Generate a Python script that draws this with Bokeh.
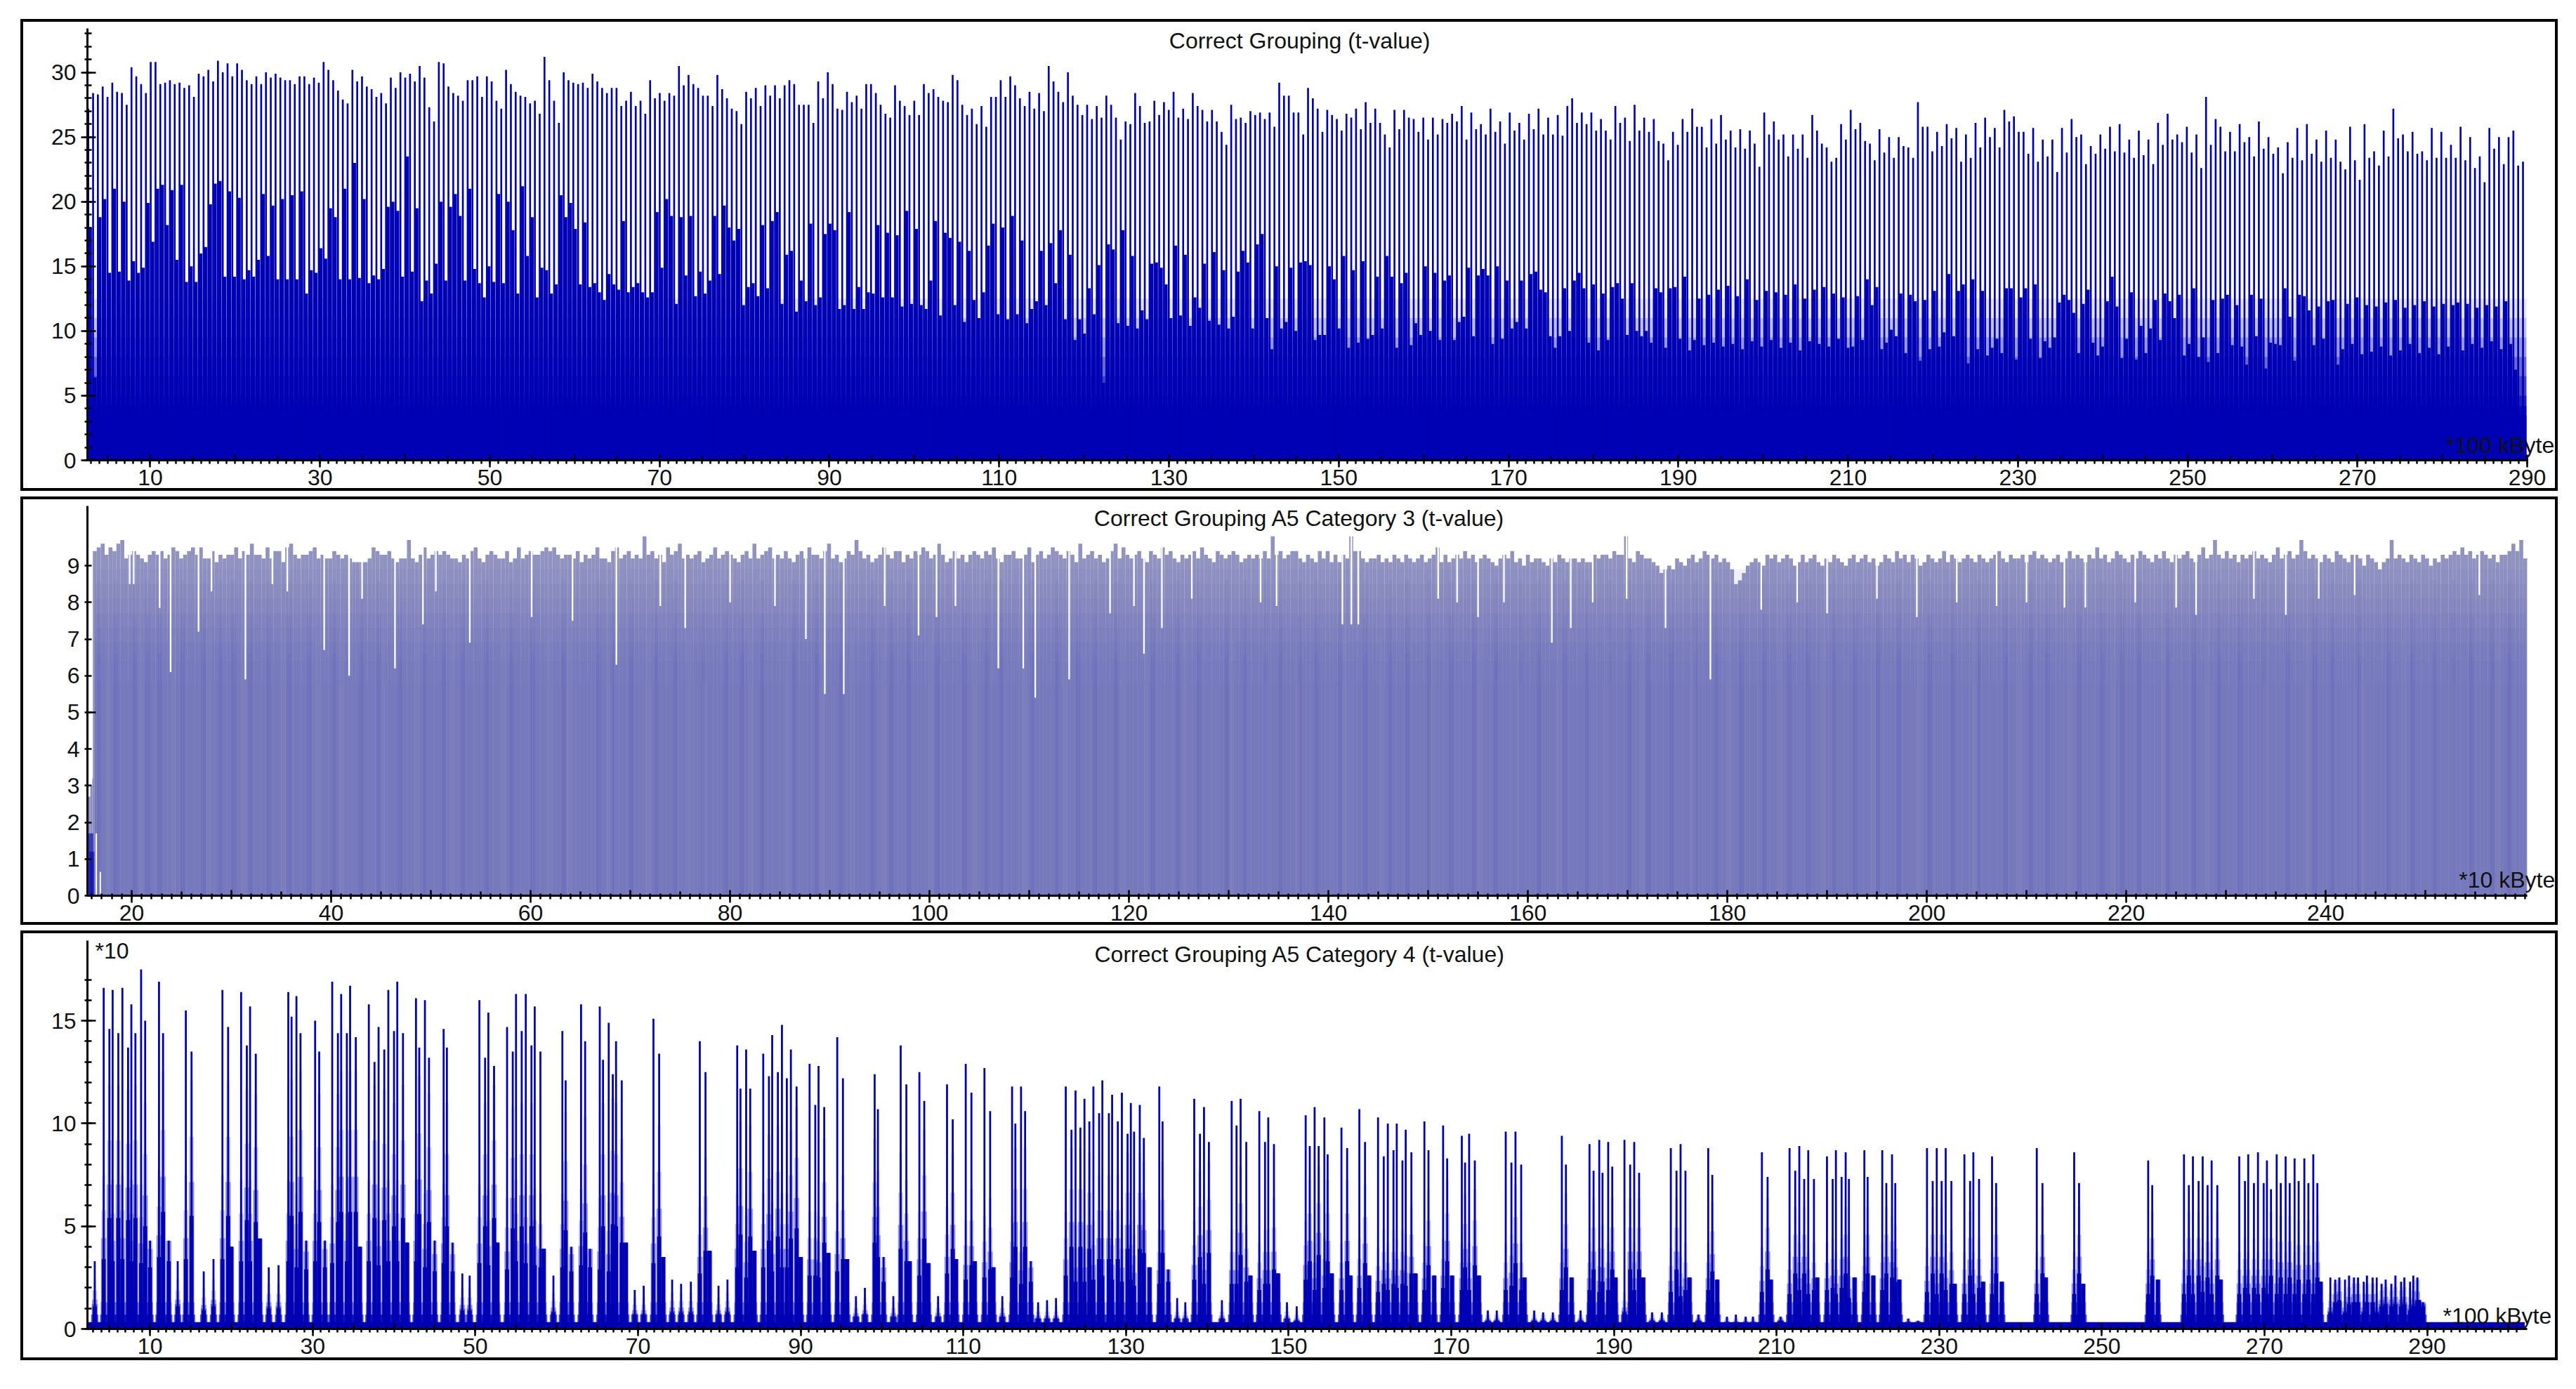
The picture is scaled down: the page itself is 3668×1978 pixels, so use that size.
from bokeh.embed import file_html
from bokeh.resources import INLINE
from bokeh.plotting import figure
from bokeh.layouts import column
from bokeh.models import Div, FixedTicker, Label, LinearAxis, Range1d

titles = ["Correct Grouping (t-value)", "Correct Grouping A5 Category 3 (t-value)", "Correct Grouping A5 Category 4 (t-value)"]
units = ["*100 kByte", "*10 kByte", "*100 kByte"]

# Panel 1: tall spikes, read left to right
peaks1 = [27.2,28.4,28.3,28.9,28.1,29.2,28.5,28.4,27.5,30.4,29.7,29.1,28.4,30.8,30.8,29.1,29.2,29.4,29.1,29.2,28.8,29,28.1,29.9,29.7,30.2,29.3,30.9,30,30.7,29.7,30.7,30.2,29.4,29.1,29.7,29.1,30,29.6,29.9,29.6,29.4,29.4,29.1,29.7,29.7,29.1,29.6,29.2,30.8,30.2,29.4,28.6,27.9,27.6,30.2,29.3,29.7,28.9,28.7,28.1,28.4,27.6,29.6,28.8,30,29.6,29.9,29.3,30.5,29.6,27.3,26.2,30.8,30.7,28.9,28.4,28.2,27.8,29.4,29.4,29.7,28.1,29.7,29.3,27.8,27.2,30.2,29.1,28.5,28.2,28.1,27.6,27.8,26.8,31.2,29.4,27.8,26.1,30,29.4,29.2,29.1,29.2,28.8,29.9,29.3,28.8,28.4,28.8,28.8,27.4,27.8,
28.5,27.4,27.8,26.8,29.4,28,28.4,27.8,28.4,28.2,30.5,29,29.8,29.1,28.8,28.2,28.2,27.4,29.8,28.7,28,27.2,27,26,28.5,28,28.8,27.4,29,28.2,29,28,29,29.4,29.1,27.5,27.5,27.5,26.1,29.3,28,30,29.1,27.2,27.1,28.5,27.7,28.2,27.2,29.1,29.1,28.4,27.5,26.8,26.5,29,27.8,27.4,26.7,27.8,26.7,29.1,28.4,28.7,28.1,27.8,27.7,29.8,29.4,27.5,26.7,27.2,26,27.4,25.8,28.1,28.1,29.4,28.1,29.7,29,28,27.4,28.5,27.2,28.4,27,30.5,29.3,28.5,27.7,30,28.2,27.5,26.7,27.5,26.4,27.4,26.5,28.2,27.5,26.5,24.8,26.2,26,28.4,27.4,26.1,26.2,27.8,26.7,27.7,27.1,28.5,26.5,27.2,26.4,28.4,27.4,27.1,26.2,27.1,26.2,25.4,24.4,27.5,26.4,26.5,26.1,27,26.7,
26.9,26.4,26.9,25.8,29.2,28.2,28.2,26.9,26.9,25.2,28.8,28,27.2,25.4,27.1,26.7,26.4,25.5,26.8,26.5,27.2,25.6,27.7,26.1,27.2,26.1,25.2,24.2,27.1,25.6,27.1,26.5,26.4,25.4,26.5,24.8,26.5,25.2,26.4,26.1,26.8,26.2,27.4,24.8,26.9,25.6,26,25.2,27.2,25.4,26.2,24.5,26.9,25.5,26.1,24.8,26.8,25.6,27.2,25.2,26.5,25.2,26.7,25.1,27.4,28,26.1,26.9,26,26.9,25.5,26.4,25.5,24.8,27.4,26.1,26.5,24.7,27.5,25.5,26.5,25.4,26.4,24.7,24.5,23.2,25.4,24.4,26.4,25.4,27.2,25.8,25.8,24.2,26.4,24.5,26.7,24.8,25.5,24.2,25.6,24.1,25.5,24.5,22.7,26.9,25.2,26.2,24.8,25.2,23.5,25.2,24.1,25.2,23.4,26.7,25.5,24.5,24.2,23.1,23.4,26,24.8,27.1,25.6,26.1,24.7,24.5,23.2,25.6,23.8,
25,23.4,25,24.3,24.2,23.4,27.7,25.8,25.8,23.9,25.4,24.3,26,24.9,25.7,23.1,25.2,23.4,26.1,24.2,26.5,25,25.7,24.2,27.1,26.2,26.6,25.4,25.4,23.7,25.7,23.1,24.8,23.5,24.8,22.3,25.7,23.8,26.4,25,25.2,22.9,24.3,23.7,25.2,24.1,25.8,23.9,26,23.8,24.8,23.4,25.5,23.6,24.8,22.9,26.1,24.4,26.8,24.8,25.2,24.6,25.8,23.8,25.2,22.6,28.1,24.4,26.4,25.8,23.9,25.4,23.9,26,24.6,25,23.5,26.2,24.1,25,23.7,24.2,22.2,24.6,23.4,25.7,23.2,26,23.7,24.8,23.1,25.5,23.4,24.8,23.1,22.5,25.8,23.2,21.7,26,23.4,23.9,22.8,25.5,23.5,27.2,24.9,25.2,23.9,25.4,23.7,23.9,23.2,25.7,23.4,25.4,23.4,24.4,23.4,25.8,23.2,25,22.6,23.5,21.5,25.7,24.1,25,22.9,25,25.5,22.8,23.1]

# Panel 1: second level next to each spike
mids1 = [18,6.4,18.8,20.2,14.5,21,14.6,20,13.9,15.4,14.5,14.9,19.9,16.9,21,21.3,18.2,20.9,15.5,21.3,13.8,15,13.8,16,16.5,19.8,21.4,21.6,14.2,20.8,14.2,20.3,14,14.7,14.2,15.5,20.6,15.8,19.7,14,20.2,14,20.5,14,20.8,12.9,14.7,14.5,16.4,15.6,19.5,18.8,14,21,14,23,14.1,20.2,13.7,14.3,14,14.8,19.6,20,19.3,14.2,23.5,14.6,19.5,12.3,13.9,12.9,15.2,20,13.9,19.6,20.6,18.9,13.9,21,14.8,13.7,12.6,15,13.8,20.6,13.7,20,17.8,12.9,21.2,15.8,18.8,12.6,14.9,14.7,12.9,13.6,20.5,18.8,19.9,17.9,13.6,18.4,13.4,13.7,13,12.4,14.4,13.6,13.2,18.5,13,
13.4,13.7,13,12.6,13,19.2,14.9,20.2,18.9,12.1,18.8,14.3,18.9,12.7,14.6,12.9,13.9,18.9,14.4,19.7,18,17,17.9,12,13.4,13.7,12.7,18.2,13.3,18.5,19.2,12.1,15.9,16.2,11.5,13.9,12.3,18.3,12,12.6,17.5,18.3,17.8,11.7,12,19.2,11.7,13.4,11.7,13,12.9,18.2,12.6,17.6,12.6,17.4,11.9,19.3,12.1,17.9,12,11.7,13.9,18.5,11.2,17.6,17.2,12,16.9,10.7,16.2,12.4,11,13,16.6,18.3,11.3,18,10.9,18.9,11.3,17,10.6,11.7,12.3,16.2,12,16.8,13.7,17.8,10.9,15.9,9.3,10.9,9.8,13.3,11.3,15.1,6,16.7,16.3,10.6,17.8,10.4,15.8,10.2,11.6,10.9,15.2,15.3,14.9,13.6,11,16.6,11.2,15.9,10.4,12.6,11.8,15.2,10.8,16.1,10.5,14.7,
10.2,11.1,14.6,16.2,15.3,10.2,16.7,17.5,11,8.6,15,10.2,10.7,14.9,10,15.3,15.4,15.1,9.3,9.7,9.7,15,14,10.2,15.8,8.7,14.7,9.1,15.4,9.4,9.7,14.2,10.2,15.8,14.2,8.7,13.7,14.5,8.9,10.6,9.7,15,10,14.5,9.3,13.9,14.3,9.3,10.7,11.1,14.9,9.6,14.3,14.8,14.3,9,15,9.4,13.9,10.2,10.7,13.9,10.2,14.4,14.6,13.2,13,9.6,8.7,9.6,13.3,10,13.9,14.5,13.3,9.1,13.6,8.5,12.9,9.3,13.4,13.7,12.5,9.7,13.7,10,9.6,10,9.1,13.3,13,8.7,13.3,13.4,9.4,14.2,8.5,9.3,12.5,8.9,12.8,9.1,13.2,8.8,13.5,9,12.7,8.6,14,9.2,12.4,8.8,13.1,9.3,13,8.7,12.8,9.1,13.6,8.5,12.5,9.2,13.2,9,13.4,8.8,12.9,9.4,12.6,8.7,
8.8,12.7,9.3,14,12,13.4,8.6,9.1,10.1,9.6,12.9,8.3,12.8,12.3,7.7,12.4,8.6,13.1,8.8,9.9,14.4,9.6,13.1,13.6,7.5,14,8.6,13.1,8.1,8.7,9.4,8.3,13.3,13.3,7.8,12.6,13.3,9.4,13.6,7.9,9.2,8.7,9.5,12.2,12.8,12.4,11.4,8.3,12.1,13.2,9.1,8.1,8.8,12.3,14.2,11.9,7.9,9.4,13,7.8,10.4,8.3,10.2,12.4,9.3,12.9,12.3,11,12.8,8.1,9,13.3,8,9.5,7.6,12.4,8.3,12.5,12.8,8.9,12,8.8,7.4,12.8,9.6,12.5,7.1,9.1,9,8.9,13.3,11.1,7.7,12.8,12.7,11.6,8.9,11.9,9.4,12.3,12.4,7.4,8.6,12.1,9,12.6,8.2,12,8.4,11.9,8.8,12.2,8.1,12.4,8.5,11.8,9,12,8.3,12.3,8.7,11.9,8.2,12.1,8.8,12,12.2,8.5,12.1,9,11.8,8.7,12,9.2,11.9,8.6,12.3,9,7]

# Panel 2: top of each sample block
tops2 = [9.4,9.5,9.6,9.3,9.5,9.4,9.6,9.7,9.2,9.3,9.4,9.3,9.2,9.1,9.3,9.4,9.3,9.4,9.2,9.3,
9.5,9.4,9.2,9.3,9.4,9.5,9.3,9.5,9.2,9.2,9.4,9.1,9.3,9.2,9.3,9.3,9.5,9.2,9.4,9.3,
9.6,9.3,9.3,9.2,9.5,9.2,9.4,9.4,9.1,9.5,9.6,9.3,9.2,9.3,9.3,9.4,9.5,9.2,9.3,9.2,
9.2,9.4,9.3,9.2,9.3,9.2,9.1,9.1,9.1,9.1,9.2,9.5,9.4,9.3,9.3,9.4,9.2,9.1,9.2,9.2,
9.7,9.2,9.1,9.3,9.5,9.2,9.3,9.4,9.3,9.4,9.3,9.2,9.2,9.1,9.3,9.2,9.4,9.5,9.2,9.1,
9.3,9.4,9.3,9.2,9.2,9.4,9.1,9.2,9.5,9.2,9.3,9.4,9.3,9.3,9.4,9.5,9.4,9.5,9.3,9.2,
9.3,9.3,9.2,9.4,9.1,9.3,9.2,9.3,9.5,9.2,9.2,9.1,9.4,9.5,9.2,9.3,9.4,9.2,9.3,9.2,
9.8,9.3,9.4,9.2,9.3,9.1,9.5,9.3,9.4,9.6,9.2,9.3,9.2,9.3,9.4,9.1,9.2,9.3,9.5,9.2,
9.3,9.4,9.3,9.2,9.1,9.3,9.4,9.2,9.6,9.2,9.3,9.4,9.5,9.2,9.3,9.2,9.4,9.2,9.1,9.3,
9.4,9.2,9.5,9.3,9.3,9.2,9.4,9.6,9.2,9.3,9.1,9.2,9.4,9.3,9.7,9.4,9.2,9.3,9.1,9.2,
9.3,9.5,9.3,9.2,9.4,9.4,9.1,9.3,9.2,9.4,9.3,9.5,9.4,9.2,9.3,9.6,9.3,9.1,9.2,9.4,
9.2,9.3,9.1,9.3,9.4,9.3,9.2,9.4,9.3,9.5,9.2,9.1,9.3,9.3,9.4,9.2,9.2,9.3,9.5,9.1,
9.3,9.4,9.2,9.3,9.5,9.4,9.3,9.2,9.4,9.3,9.1,9.6,9.2,9.3,9.4,9.2,9.3,9.1,9.2,9.4,
9.6,9.2,9.5,9.3,9.2,9.3,9.4,9.2,9.1,9.4,9.3,9.2,9.5,9.3,9.4,9.2,9.1,9.3,9.2,9.3,
9.4,9.2,9.5,9.3,9.2,9.1,9.4,9.3,9.2,9.3,9.4,9.3,9.1,9.2,9.3,9.2,9.3,9.2,9.4,9.2,
9.8,9.3,9.4,9.2,9.3,9.4,9.4,9.2,9.1,9.3,9.2,9.1,9.4,9.2,9.4,9.1,9.3,9.1,9.3,9.2,
9.8,9.4,9.4,9.2,9.1,9.2,9.2,9.3,9.1,9.2,9.1,9.3,9.2,9.1,9.3,9.2,9.1,9.2,9.3,9.1,
9.2,9.3,9.5,9.1,9.3,9.1,9.2,9.3,9.2,9.4,9.2,9.3,9.1,9.2,9.3,9.2,9.1,9,9.2,9.3,
9.2,9.4,9.1,9.2,9,9.3,9.1,9.2,9.2,9.1,9,9.2,9.1,9.3,9.2,9.1,9.2,9.2,9.1,9.2,
9.1,9.1,9.3,9.2,9.3,9.3,9.2,9.4,9.3,9.3,9.8,9.2,9.1,9.4,9.3,9.2,9.2,9.1,9,8.8,
8.9,9,8.9,9.2,9.1,9,9.2,9.3,9.1,9.2,9.4,9.3,9.2,9.3,9.1,9.2,9.1,8.9,8.5,8.6,
8.8,9,9.1,9.2,9.1,9,9.3,9.2,9.3,9.1,9.2,9.3,9.2,9,9.1,9.3,9.1,9.2,9.3,9.1,
9,9.2,9.1,9.3,9.2,9.1,9,9.2,9.3,9.1,9.2,9.3,9.1,9.2,9,9.1,9.3,9.2,9.1,9.4,
9.2,9.3,9.1,9.3,9.2,9,9.1,9.3,9.2,9.1,9.2,9.4,9.1,9.3,9.2,9.1,9.2,9.3,9.2,9.1,
9.3,9.2,9.1,9.2,9.3,9.4,9.2,9.1,9.3,9.2,9.2,9.3,9.1,9.3,9.4,9.2,9.3,9.2,9.1,9.2,
9.3,9.1,9.2,9.4,9.2,9.3,9.2,9.1,9.3,9.2,9.5,9.2,9.3,9.1,9.2,9.4,9.3,9.2,9.1,9.3,
9.2,9.4,9.3,9.2,9.1,9.3,9.2,9.4,9.2,9.1,9.3,9.2,9.3,9.4,9.2,9.1,9.3,9.5,9.2,9.3,
9.7,9.3,9.2,9.4,9.2,9.3,9.1,9.3,9.2,9.3,9.4,9.2,9.3,9.2,9.1,9.3,9.5,9.2,9.3,9.4,
9.2,9.3,9.7,9.4,9.2,9.3,9.2,9.1,9.3,9.2,9.1,9.4,9.3,9.2,9.1,9.3,9.3,9.2,9,9.3,
9.2,9.1,8.9,9.1,9.2,9.7,9.2,9.3,9.2,9.1,9.3,9.2,9.1,9.3,9.2,9,9.2,9.1,9.3,9.2,
9.3,9.4,9.3,9.5,9.3,9.4,9.2,9.3,9.4,9.3,9.2,9.3,9.1,9.3,9.3,9.4,9.6,9.4,9.7,9.2]

dip_x2 = [19.8,20.2,22.8,23.9,26.7,28,31.4,34.1,35.6,39.3,41.8,43.1,46.4,49.2,50.5,53.9,60.1,64.2,68.6,73,75.5,80,84.5,87.6,89.5,91.4,95.5,98.9,100.7,102.6,106.9,109.4,110.6,114,118.1,120.5,121.5,123.3,126.3,133.2,134.8,141.4,142.3,143,151,152.9,155,157.6,162.4,164.3,166.5,169.9,173.8,178.3,183.4,187,190,195,199,203,207,210,213.8,215.9,220.9,225,227,232.8,236,239.3,242.9,255.4]
dip_y2 = [8.5,8.5,7.85,6.1,7.2,8.3,5.9,8.5,8.3,6.7,6,8.1,6.2,7.4,8.3,6.9,7.6,7.5,6.3,7.9,7.3,8,7.9,7,5.5,5.5,7.9,7.1,7.6,7.9,6.2,6.2,5.4,5.9,7.7,7.9,6.6,7.3,8.1,8,7.9,7.4,7.4,7.4,8.1,8,7.6,8,6.9,7.3,8,8.1,7.3,5.9,7.8,8,7.7,8.1,7.6,8,7.9,8,7.86,7.86,8,7.86,7.66,8.1,7.66,8.1,8.2,8.2]
dark_x2 = [16.7,18.4,20.3,21.6,22.8,25.1,27.2,28.9,30.2,31.9,33.7,35.8,37.8,40.3,43,44.8,46.9,49.4,51.3,53.2,55.6,58.1,60.2,63.3,66.8,68.2,70.1,72.6,74.5,77.3,79.6,81.2,83.2,86.4,88.7,91.1,94.3,96.2,97.9,100.8,103.5,105.7,107.2,110.3,112.8,114.9,116.6,118.7,122.4,124.9,127,129.8,131.6,133.7,135.2,137.1,138.8,141.2,143.7,146.2,147.9,150.1,152.3,154.6,156.8,159.3,161.1,163.7,165.9,168.2,170.2,172.1,174.4,176.8,178.9,181.4,183.7,186.2,188.1,190.7,192.8,195.1,197.2,200.3,202.6,205.2,207.9,210.4,212.1,215.3,217.6,219.6,221.3,224.2,226.8,229.3,231.4,233.8,236.2,238.9,240.7,243.4,246.3,248.7,250.9,252.8,254.6,256.7,258.4]
light_x2 = [17.6,20.9,24.2,27.8,31.2,35.2,38.6,41.1,45.2,48.6,52.1,57.3,61.8,63.9,67.9,71.8,75.9,77.4,82.1,85.8,89.3,92.2,95.4,100.1,104.6,109.5,113.6,119.3,121.7,125.6,130.3,133.8,136.9,141.6,145.3,150.4,155.2,159.2,163.1,168.1,171.4,176.6,180.1,185.3,189.6,194.6,199.2,204.8,209.3,214.4,218.7,223.7,228.1,233.9,238.2,243.6,247.9,252.8,257.3]

# Panel 3: spikes
x3 = [3.2,4.3,5.0,5.4,6.1,6.6,7.3,7.7,8.2,8.9,9.4,10,11.1,11.6,12.3,13.4,14.4,15.1,16.6,17.8,
18.9,19.6,20,21.2,21.9,22.3,23,23.5,24.6,25.8,27,27.4,28,28.5,29.2,30.3,30.8,31.5,32.4,33.1,
33.5,34.2,34.6,35.3,35.8,36.9,37.6,38.1,38.8,39.3,40,40.4,41.1,41.6,42.7,43.1,43.8,44.3,45,46.1,
46.5,47.2,48.4,49.3,50.5,51.2,51.6,52.3,52.7,53.9,54.6,55,55.7,56.2,56.9,57.3,58,58.4,59.6,60.7,
61.1,61.8,63,63.5,64.1,65.3,65.7,66.4,66.9,67.3,68,68.5,69.6,70.7,71.9,72.6,73.1,74.2,75.3,76.5,
77.6,78.3,78.8,79.9,81,82.2,82.6,83.3,83.8,84.3,85.4,86.1,86.5,87.2,87.7,88.3,88.8,89.5,90,91.1,
91.8,92.2,92.9,93.4,94.5,95.2,95.7,96.8,97.9,99.1,99.5,100.2,101.4,102.3,103,103.4,104.6,105.2,105.7,106.9,
108,108.7,109.1,110.3,111,111.4,112.6,113.3,113.7,114.8,116,116.4,117.1,117.6,118.3,119.2,120.3,121.4,122.6,123.3,
123.8,124.4,124.9,125.5,126,126.7,127.1,127.9,128.3,129,129.5,130.2,130.6,131,131.7,132.2,132.9,134.1,134.5,135.2,
136.3,137.3,138.4,139.1,139.6,140.2,141.8,143,143.6,144.1,144.8,145.3,146.4,147.1,147.5,148.2,148.7,149.8,151,152.1,
152.6,153.2,153.7,154.4,154.8,155.3,156.5,157.2,157.6,158.7,159.4,159.9,161,161.7,162.2,162.9,163.3,164,164.4,165.1,
165.6,166.7,167.2,167.9,169,169.5,170.1,171.3,171.7,172.2,172.9,173.4,174.5,175.6,176.7,177.4,177.9,178.6,179,180.2,
181.3,182.5,183.6,184.1,184.8,185.9,187,187.5,188.2,188.6,189.3,189.8,190.2,191.3,192,192.5,193.1,193.6,194.7,195.9,
197,197.7,198.2,198.8,199.3,200.4,201.6,202.1,202.7,203.9,205,206.2,207.1,208.2,208.9,209.3,210.5,211.6,212.3,212.8,
213.4,213.9,214.6,215,216.2,216.9,217.3,218,218.5,218.9,219.6,220.8,221.2,221.9,223,223.5,224.2,224.6,225.1,226.2,
227.4,228.5,229.2,229.7,230.3,230.8,231.5,231.9,233.1,233.8,234.2,234.9,235.4,236.5,237,237.7,242,242.7,243.1,246.6,
247.2,247.7,255.7,256.2,256.9,260.1,260.7,261.2,261.9,262.4,263,263.5,264.2,264.6,266.9,267.6,268,268.7,269.2,269.9,
270.3,270.8,271.5,272,272.6,273.1,273.7,274.2,274.9,275.4,276,276.5,276.9,278.1,278.7,279.2,279.9,280.4,281,281.5,
282.2,282.6,283.3,283.8,284.4,284.9,285.6,286.1,286.8,287.2,287.9,288.3,288.8,289,289.5]
y3 = [3.3,16.6,14.6,16.5,14.4,16.6,13.7,15.8,14.4,17.5,15,4.3,16.9,14.4,4.3,3.3,15.5,13.5,2.8,3.4,
16.5,14.7,4,16.4,13.8,15.7,13.4,4.4,3,3.1,16.4,15.2,16.2,14.4,4.3,15,13.5,4.3,16.9,14.4,
16.3,14.4,16.7,14.2,4,15.8,13,14.7,13.6,16.5,14.5,16.9,14.4,4.2,16.1,13.7,16,13.2,4.3,14.6,
13.7,4.2,2.7,2.6,16,13.2,15.4,12.8,4.2,14.7,13.5,16.3,14.5,16.3,13.8,15.7,13.5,3.9,2.6,14.5,
12.1,4,15.8,14,3.9,15.7,13.1,14.9,12.4,14,12.1,4.2,1.9,2.1,15.1,13.4,3.5,2.4,2.2,2.3,
14,12.5,3.8,2.1,2.4,13.8,11.7,13.6,11.7,3.8,13.4,12.3,14.3,12.5,14.8,12.2,13.6,11.8,3.5,12.9,
10.9,12.8,10.8,3.7,14.2,12.2,3.4,1.6,2,12.4,10.7,3.5,1.6,13.8,11.9,3.3,12.5,11.1,3.2,1.6,
11.9,10.2,3.4,12.9,11.5,3.3,12.7,10.6,3,1.6,11.8,10,11.8,10.6,3.3,1.3,1.4,1.5,11.8,9.7,
11.6,9.8,11.2,10.1,11.8,10.5,12.1,10.5,11.4,10.1,11.5,9.5,11,9.6,10.9,9.3,3,11.8,10.1,2.9,
1.5,1.3,11.2,9.5,10.8,9.1,1.4,11.1,9.9,11.2,9.1,2.6,10.6,9.1,10.3,9,2.7,1.3,1.1,10.4,
8.9,10.8,8.9,10.3,8.5,2.7,9.8,8.8,2.6,10.7,9.1,2.6,10.3,8.4,10,8.7,10,8.2,9.7,8.6,
2.7,10.1,8.7,2.6,9.9,8.3,2.6,9.4,8.1,9.5,8.2,2.6,.9,.9,9.6,8.1,9.6,8,2.5,.9,
.8,.8,9.4,8,2.5,.9,9,7.7,9.2,7.6,9.1,7.9,2.5,9.2,8,9.1,7.6,2.5,.8,.8,
8.8,7.7,9,7.7,2.5,.7,8.8,7.5,2.4,.6,.7,.6,.6,8.6,7.4,2.4,.6,8.8,7.7,8.9,
7.3,8.7,7.3,2.5,8.4,7.3,8.7,7.4,8.6,7.3,2.5,8.7,7.4,2.6,8.7,7.1,8.5,7.1,2.4,.5,
.4,8.8,7.2,8.8,7.2,8.8,7.2,2.2,8.5,7.2,8.6,7.3,2.3,8.4,7.1,2.3,8.8,7.1,2.5,8.6,
7.1,2.2,8.2,7,2.4,8.5,7,8.4,7.2,8.4,7,8.2,7,2.4,8.4,7.2,8.5,7.1,8.6,7.1,
8.2,6.8,8.5,7.1,8.4,7.1,8.3,7.2,8.3,7.1,8.5,7.1,2.3,2.5,2.4,2.5,2.4,2.6,2.5,2.5,
2.3,2.6,2.5,2.5,2.2,2.4,2.2,2.6,2.3,2.5,2.3,2.6,2.5,1.4,1.3]
s3 = [1.1,3.4,5.4,3.3,5.4,3.4,5.3,3.3,5.4,3.2,5,3,3.5,5.7,3.3,1.1,3.4,5.5,.9,1.1,
3.4,5.5,4,3.3,5.3,3.3,5.2,4.4,1,1,3.3,5.5,3,5.7,2.9,3.3,5.2,3,3.2,5.2,
5.7,3.3,5.7,5.7,4,3.3,5.4,3.1,5.3,3.3,5,3.3,5.4,4.2,3.3,5.6,3,5.2,2.8,3.2,
5,2.8,.9,.9,3.2,5,3.1,5.4,4.2,2.9,4.9,3.3,5,3.2,5,3.1,3,3.9,.8,3,
4.8,2.8,3.1,4.7,3,2.9,5,2.8,5.1,5,4.2,4.2,.7,.7,3.2,4.5,3.5,.8,.8,.8,
2.7,3.8,3.8,.7,.8,3,4.6,2.5,4.5,3.8,3,4.3,2.8,4.5,3,3,4.4,4.9,3.5,2.6,
2.6,2.5,4.2,3.7,2.8,3.4,3.4,.6,.7,4.2,3.5,2.3,.6,3.9,3.3,3.3,2.6,4.4,3.2,.6,
2.7,3.9,3.4,2.4,3.1,3.3,2.5,2.9,3,.6,2.5,4,2.2,4,2.3,.5,.5,.5,2.6,4,
2.3,4,2.3,3.9,2.4,3.4,2.6,3.4,2.4,3.4,2.3,3.9,2.4,2.1,3.9,3.7,3,2.2,3.7,2.3,
.5,.5,2.4,3.5,2.2,3.7,.5,2.2,2.2,3.6,2.3,2.6,1.9,2.2,2.2,2.9,2.7,.5,.4,2.4,
3.3,1.9,3.6,2,3.3,2.7,1.9,3.3,2.6,2,3.2,2.6,1.8,2.2,1.9,2.2,2,2.2,2.1,2.7,
2.7,1.9,3.1,2.6,2,3.3,2.6,1.9,3,1.9,3.1,2.6,.4,.4,1.9,2.1,3.2,1.9,2.5,.4,
.4,.4,1.9,3,2.5,.4,1.9,2.9,1.8,2.3,1.9,2.9,2.5,.8,2.9,1.9,2.9,2.5,.4,.4,
1.8,2.9,1.6,1.9,2.5,.4,1.9,2.8,2.4,.3,.3,.3,.3,1.8,2.9,2.4,.4,1.7,2.7,1.9,
2.7,1.7,1.9,2.5,1.9,2,1.7,2,2.7,1.5,2.5,1.8,2.7,2.6,1.9,2.7,2.5,2.3,2.4,.3,
.3,1.8,2.7,1.7,2.7,1.9,2.2,2.2,1.7,2.6,1.7,2,2.3,1.7,2.7,2.3,1.7,2.7,2.5,1.7,
2.7,2.2,1.7,2.6,2.4,1.7,2.6,1.7,2.6,1.8,2.5,1.7,2.6,2.4,1.7,2,1.7,2,1.7,2,
1.7,2.6,1.7,2.5,1.7,2.5,1.7,2.4,1.7,2.4,1.7,2.5,2.3,.8,1.3,1.4,.8,1.2,1.3,1.3,
.8,1.3,1.3,.8,1.1,1.2,1.1,1.2,1.1,1.2,.9,1.1,1.4,1.4,1.1]

BLUE = "#0000B4"
FONT = "Liberation Sans"


def panel(height, xr, bound, yr, borders, x_labeled, x_long, x_mid, x_small, y_major, y_minor):
    p = figure(width=3613, height=height, x_range=Range1d(*xr), y_range=Range1d(*yr),
               output_backend="svg", toolbar_location=None, x_axis_type=None, y_axis_type=None,
               min_border_left=96, min_border_right=1,
               min_border_top=borders[0], min_border_bottom=borders[1])
    p.grid.visible = False
    p.outline_line_color = None

    xa = LinearAxis(ticker=FixedTicker(ticks=x_labeled, minor_ticks=x_small), bounds=bound)
    xa.major_tick_in, xa.major_tick_out = 8, 10
    xa.minor_tick_in, xa.minor_tick_out = 3, 5
    xa.major_label_standoff = 3
    ya = LinearAxis(ticker=FixedTicker(ticks=y_major, minor_ticks=y_minor))
    ya.major_tick_in, ya.major_tick_out = 12, 9
    ya.minor_tick_in, ya.minor_tick_out = 6, 4
    ya.major_label_standoff = 7
    for a in (xa, ya):
        a.axis_line_width = 3
        a.major_tick_line_width = 2.5
        a.minor_tick_line_width = 2.5
        a.major_label_text_font = FONT
        a.major_label_text_font_size = "32px"
        a.major_label_text_color = "#111111"
    p.add_layout(xa, "below")
    p.add_layout(ya, "left")
    extra = LinearAxis(ticker=FixedTicker(ticks=x_long, minor_ticks=x_mid), fixed_location=yr[0], bounds=bound)
    extra.axis_line_alpha = 0
    extra.major_tick_in, extra.major_tick_out = 10, 8
    extra.minor_tick_in, extra.minor_tick_out = 8, 6
    extra.major_tick_line_width = 2.5
    extra.minor_tick_line_width = 2.5
    extra.major_label_text_color = None
    extra.major_label_text_font_size = "1px"
    extra.major_label_standoff = 0
    p.add_layout(extra, "above")
    return p


def label(p, x, y, text, align):
    p.add_layout(Label(x=x, y=y, text=text, text_font=FONT, text_font_size="32px",
                       text_color="#111111", text_align=align, text_baseline="alphabetic"))


def frame_box(top, height):
    return Div(text="", styles={"position": "absolute", "left": "-4px", "top": f"{top}px",
                                "width": "3613px", "height": f"{height}px",
                                "box-sizing": "border-box", "border": "4px solid #000",
                                "z-index": "50", "pointer-events": "none"})


# ---------- panel 1 ----------
p1 = panel(680, (2.6, 293.47), (2.6, 290), (0, 33.4), (13, 52),
           list(range(10, 291, 20)), list(range(20, 281, 20)), list(range(5, 291, 10)),
           list(range(3, 291)), list(range(0, 31, 5)), list(range(0, 34)))
step1 = (289.5 - 2.7) / (len(peaks1) - 1)
x1 = [2.7 + i * step1 for i in range(len(peaks1))]
for h, a in ((12.5, .10), (11, .16), (9.5, .22), (8, .3), (6.5, .4), (5, .55), (4.2, .7)):
    p1.quad(left=[2.6], right=[289.9], bottom=[0], top=[h], fill_color=BLUE, fill_alpha=a, line_color=None)
p1.quad(left=[2.6], right=[289.9], bottom=[0], top=[3.5], fill_color=BLUE, line_color=None)
p1.vbar(x=[a + .245 for a in x1], top=mids1[:len(x1)], width=.36, bottom=0, fill_color=BLUE, line_color=None)
p1.vbar(x=x1, top=peaks1, width=.22, bottom=0, fill_color=BLUE, line_color=None)
label(p1, 145.4, 32.46, titles[0], "center")
label(p1, 293.2, 1.19, units[0], "right")

# ---------- panel 2 ----------
p2 = panel(618, (15.56, 263.16), (15.56, 260.2), (0, 10.63), (13, 50),
           list(range(20, 241, 20)), list(range(30, 251, 20)), list(range(25, 260, 10)),
           list(range(16, 261)), list(range(0, 10)), [])
p2.yaxis[0].major_tick_in, p2.yaxis[0].major_tick_out = 6, 4
edge = LinearAxis(ticker=FixedTicker(ticks=[0, 5]), fixed_location=15.56)
edge.axis_line_alpha = 0
edge.major_tick_in, edge.major_tick_out = 12, 9
edge.major_tick_line_width = 2.5
edge.minor_tick_line_alpha = 0
edge.major_label_text_color = None
edge.major_label_text_font_size = "1px"
edge.major_label_standoff = 0
p2.add_layout(edge, "left")

step2 = (260 - 16.3) / (len(tops2) - 1)
x2 = [16.3 + i * step2 for i in range(len(tops2))]
p2.vbar(x=x2, top=tops2, width=step2, bottom=0, fill_color="#9092C0", line_color=None)
for h, a in ((8.9, .1), (8.5, .12), (8.1, .14), (7.7, .16), (7.3, .18), (6.9, .2), (6.4, .2), (5.8, .15)):
    p2.quad(left=[16.3], right=[260.1], bottom=[0], top=[h], fill_color="#7072BE", fill_alpha=a, line_color=None)
for h, a in ((8.6, .06), (7.6, .08), (6.6, .08)):
    p2.vbar(x=dark_x2, top=[h] * len(dark_x2), width=.42, bottom=0, fill_color="#5456BA", fill_alpha=a, line_color=None)
for h, a in ((8.6, .06), (7.2, .07), (5.8, .07)):
    p2.vbar(x=light_x2, top=[h] * len(light_x2), width=.55, bottom=0, fill_color="#9C9DC6", fill_alpha=a, line_color=None)
p2.vbar(x=[15.75, 15.95, 16.15], top=[2.7, 3, 3.2], width=.2, bottom=0, fill_color="#8B8CC0", line_color=None)
p2.vbar(x=[15.9, 16.0], top=[1.7, 1.2], width=.5, bottom=0, fill_color=BLUE, fill_alpha=.6, line_color=None)
p2.vbar(x=[16.45, 16.85], top=[1.7, .65], width=.14, bottom=0, fill_color="white", line_color=None)
p2.vbar(x=dip_x2, top=[10] * len(dip_x2), bottom=dip_y2, width=.16, fill_color="white", line_color=None)
label(p2, 137.1, 10.29, titles[1], "center")
label(p2, 263, 0.43, units[1], "right")

# ---------- panel 3 ----------
p3 = panel(612, (2.3, 305.93), (2.3, 302.3), (0, 18.9), (14, 45),
           list(range(10, 291, 20)), list(range(20, 301, 20)), list(range(5, 301, 10)),
           list(range(3, 302)), [0, 5, 10, 15], list(range(0, 18)))
p3.quad(left=[2.3], right=[302], bottom=[0], top=[0.33], fill_color=BLUE, line_color=None)
for scale, w, a in ((2.2, .42, .12), (1.7, .58, .18), (1.3, .68, .3)):
    p3.vbar(x=x3, top=[min(b * scale, c) for b, c in zip(s3, y3)], width=w, bottom=0,
            fill_color=BLUE, fill_alpha=a, line_color=None)
p3.vbar(x=x3, top=[min(1.3, b * 1.1) for b in s3], width=.75, bottom=0, fill_color=BLUE, fill_alpha=.35, line_color=None)
p3.vbar(x=x3, top=[min(.7, b) for b in s3], width=.9, bottom=0, fill_color=BLUE, fill_alpha=.6, line_color=None)
p3.vbar(x=x3, top=s3, width=.5, bottom=0, fill_color=BLUE, line_color=None)
p3.vbar(x=x3, top=y3, width=.24, bottom=0, fill_color=BLUE, line_color=None)
label(p3, 151.4, 18.25, titles[2], "center")
label(p3, 305.3, 0.64, units[2], "right")
label(p3, 3.25, 18.41, "*10", "left")

page = column(frame_box(-5, 672), frame_box(675, 610), frame_box(1293, 612), p1, p2, p3,
              spacing=0, margin=(27, 0, 0, 28))
open("out.html", "w").write(file_html(page, INLINE))
